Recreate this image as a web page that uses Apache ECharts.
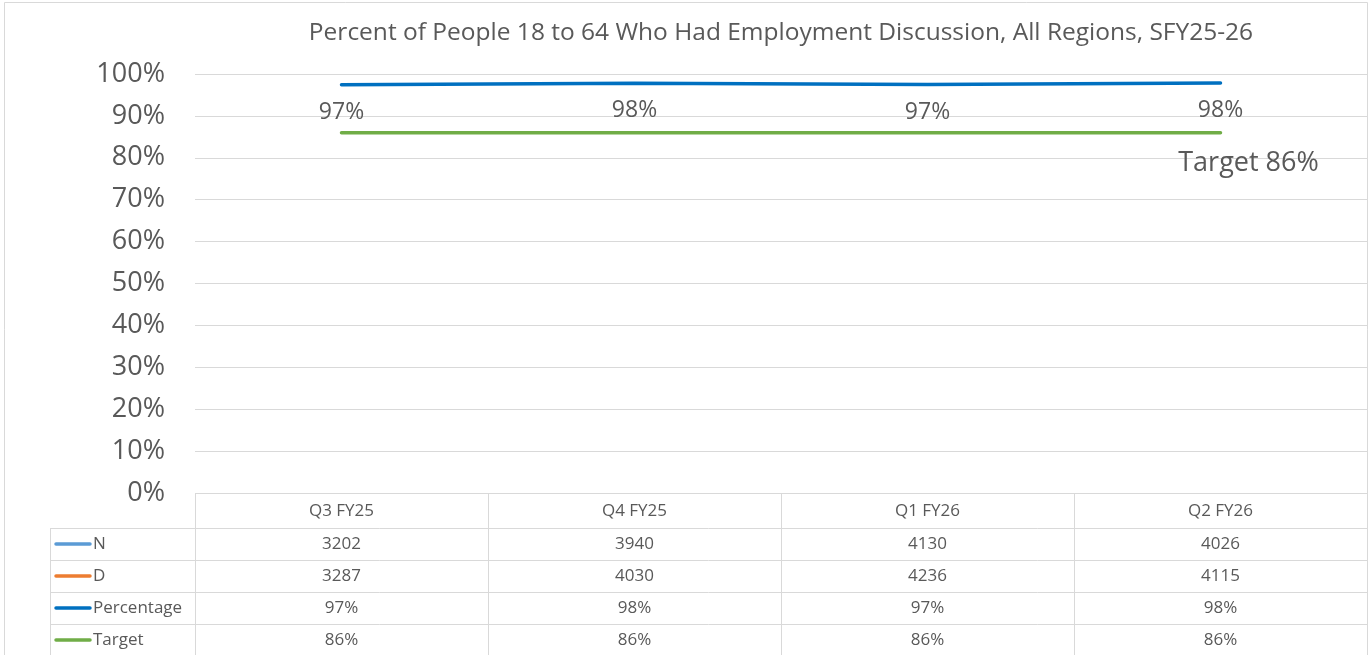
<!DOCTYPE html>
<html>
<head>
<meta charset="utf-8">
<script src="https://cdn.jsdelivr.net/npm/echarts@6/dist/echarts.min.js"></script>
<style>
html,body{margin:0;padding:0;background:#fff;}
#chart{width:1372px;height:655px;}
</style>
</head>
<body>
<div id="chart"></div>
<script>
const titleText = 'Percent of People 18 to 64 Who Had Employment Discussion, All Regions, SFY25-26';
const categories = ['Q3 FY25', 'Q4 FY25', 'Q1 FY26', 'Q2 FY26'];
const nValues = [3202, 3940, 4130, 4026];
const dValues = [3287, 4030, 4236, 4115];
const percentValues = [97.41, 97.77, 97.49, 97.84];
const targetValues = [86, 86, 86, 86];
const yTicks = [0, 10, 20, 30, 40, 50, 60, 70, 80, 90, 100];

const FONT = '"Open Sans", "Noto Sans", sans-serif';
const TXT = '#595959';
const GRIDC = '#d9d9d9';
const COLORS = { N: '#5B9BD5', D: '#ED7D31', Percentage: '#0070C0', Target: '#70AD47' };

const chart = echarts.init(document.getElementById('chart'), null, { renderer: 'canvas' });

const targetData = targetValues.map((v, i) => (
  i === targetValues.length - 1
    ? { value: v, label: { show: true, formatter: 'Target ' + Math.round(v) + '%', position: 'bottom', distance: 17, offset: [28, 0], fontSize: 27, fontFamily: FONT, color: TXT } }
    : { value: v }
));

const option = {
  animation: false,
  backgroundColor: '#fff',
  title: {
    text: titleText,
    left: 776,
    textAlign: 'center',
    top: 16,
    textStyle: { fontFamily: FONT, fontSize: 24.5, fontWeight: 'normal', color: TXT }
  },
  grid: { left: 195, right: 5, top: 74, bottom: 162, containLabel: false },
  xAxis: {
    type: 'category',
    data: categories,
    boundaryGap: true,
    axisLine: { show: false },
    axisTick: { show: false },
    axisLabel: { show: false }
  },
  yAxis: {
    type: 'value',
    min: yTicks[0],
    max: yTicks[yTicks.length - 1],
    interval: yTicks[1] - yTicks[0],
    axisLine: { show: false },
    axisTick: { show: false },
    splitLine: { lineStyle: { color: GRIDC, width: 1 } },
    axisLabel: { formatter: '{value}%', fontFamily: FONT, fontSize: 27, color: TXT, margin: 30 }
  },
  series: [
    {
      name: 'Percentage',
      type: 'line',
      data: percentValues,
      symbol: 'circle',
      symbolSize: 0.01,
      showSymbol: true,
      lineStyle: { color: COLORS.Percentage, width: 3.5, cap: 'round' },
      itemStyle: { color: COLORS.Percentage },
      label: {
        show: true,
        position: 'bottom',
        distance: 16,
        formatter: p => Math.round(p.value) + '%',
        fontFamily: FONT, fontSize: 23, color: TXT
      },
      labelLayout: { hideOverlap: false },
      z: 3
    },
    {
      name: 'Target',
      type: 'line',
      data: targetData,
      symbol: 'circle',
      symbolSize: 0.01,
      showSymbol: true,
      lineStyle: { color: COLORS.Target, width: 3.5, cap: 'round' },
      itemStyle: { color: COLORS.Target },
      label: { show: false, fontFamily: FONT, color: TXT },
      z: 2
    }
  ]
};
chart.setOption(option);

// Build data table below the plot from the arrays, using the chart's own axes
function buildTable() {
  const c0 = chart.convertToPixel({ xAxisIndex: 0 }, categories[0]);
  const c1 = chart.convertToPixel({ xAxisIndex: 0 }, categories[1]);
  const band = c1 - c0;
  const left = c0 - band / 2;
  const right = left + band * categories.length;
  const top = chart.convertToPixel({ yAxisIndex: 0 }, yTicks[0]);
  const headerH = 35;
  const rowH = 32;
  const labelLeft = 50;
  const rows = [
    { name: 'N', values: nValues.map(String) },
    { name: 'D', values: dValues.map(String) },
    { name: 'Percentage', values: percentValues.map(v => Math.round(v) + '%') },
    { name: 'Target', values: targetValues.map(v => Math.round(v) + '%') }
  ];
  const els = [];
  const line = (x1, y1, x2, y2) => els.push({
    type: 'line', silent: true,
    shape: { x1, y1, x2, y2 },
    style: { stroke: GRIDC, lineWidth: 1 }
  });
  const bottom = 700;
  line(left, Math.round(top) + 0.5, right, Math.round(top) + 0.5);
  for (let r = 0; r < rows.length; r++) {
    const y = Math.round(top + headerH + r * rowH) + 0.5;
    line(labelLeft, y, right, y);
  }
  line(labelLeft + 0.5, top + headerH, labelLeft + 0.5, bottom);
  for (let i = 0; i <= categories.length; i++) {
    const x = Math.round(left + i * band) + 0.5;
    line(x, top, x, bottom);
  }
  const txt = (x, y, t, align) => els.push({
    type: 'text', silent: true,
    x, y,
    style: { text: t, fill: TXT, font: '17px ' + FONT, textAlign: align || 'center', textVerticalAlign: 'middle' }
  });
  categories.forEach((cat, i) => txt(left + band * (i + 0.5), top + headerH / 2 + 1, cat));
  rows.forEach((row, r) => {
    const cy = top + headerH + r * rowH + rowH / 2;
    els.push({
      type: 'line', silent: true,
      shape: { x1: 56, y1: cy, x2: 90, y2: cy },
      style: { stroke: COLORS[row.name], lineWidth: 3.5, lineCap: 'round' }
    });
    txt(93, cy, row.name, 'left');
    row.values.forEach((v, i) => txt(left + band * (i + 0.5), cy, v));
  });
  els.push({
    type: 'rect', silent: true,
    shape: { x: 4.5, y: 2.5, width: 1363, height: 720 },
    style: { fill: null, stroke: GRIDC, lineWidth: 1 }
  });
  chart.setOption({ graphic: { elements: els } });
}
buildTable();
</script>
</body>
</html>
